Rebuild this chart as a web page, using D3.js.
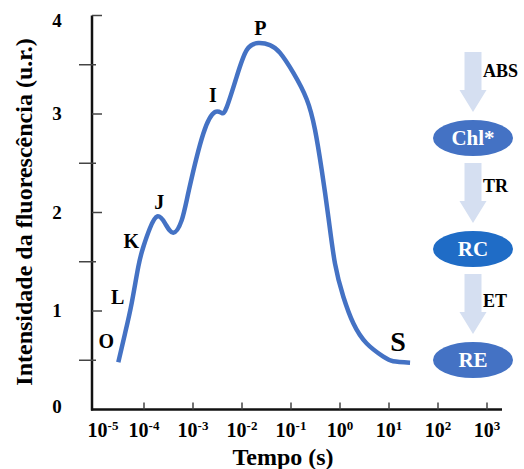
<!DOCTYPE html>
<html lang="en">
<meta charset="utf-8">
<head>
<script src="https://d3js.org/d3.v7.min.js"></script>
<style>
  body { margin: 0; background: #fff; }
  text { font-family: "Liberation Serif", "Times New Roman", serif; font-weight: bold; }
</style>
</head>
<body>
<div id="my_dataviz"></div>
<script>

// OJIP transient: time (s) and fluorescence (u.r.)
var times = [2.99e-5, 4.09e-5, 5.61e-5, 7.66e-5, 9.68e-5, 1.32e-4, 1.87e-4, 2.69e-4, 3.96e-4, 5.87e-4,
             8.28e-4, 1.62e-3, 2.81e-3, 3.85e-3, 4.88e-3, 7.8e-3, 0.0125, 0.0215, 0.0372, 0.0597,
             0.111, 0.209, 0.309, 0.424, 0.577, 0.791, 1.17, 1.87, 3.51, 7.66, 12.2, 26.9];
var fluo = [0.48, 0.77, 1.08, 1.45, 1.65, 1.84, 1.96, 1.89, 1.795, 1.92,
            2.23, 2.80, 3.02, 3.01, 3.07, 3.38, 3.65, 3.72, 3.70, 3.62,
            3.42, 3.15, 2.84, 2.43, 1.96, 1.48, 1.145, 0.875, 0.67, 0.536, 0.49, 0.475];

// phase letters and the curve point each one sits next to
var phases = ["O", "L", "K", "J", "I", "P", "S"];
var phaseIdx = [0, 2, 4, 6, 12, 17, 31];

// tick labels
var xExp = [-5, -4, -3, -2, -1, 0, 1, 2, 3];
var yTicks = [0, 1, 2, 3, 4];
var yMinor = [0.5, 1.5, 2.5, 3.5];

// energy flux scheme on the right
var fluxes = ["ABS", "TR", "ET"];
var nodes = ["Chl*", "RC", "RE"];
var nodeColors = ["#4472c4", "#1f6cc6", "#4472c4"];

function main() {
    var width = 524, height = 469;
    var svg = d3.select("#my_dataviz")
      .append("svg")
      .attr("width", width)
      .attr("height", height);

    var x = d3.scaleLog()
      .domain([1e-5, 1e3])
      .range([95, 487]);
    var y = d3.scaleLinear()
      .domain([0, 4])
      .range([409.5, 15.5]);

    var axisX = 92;

    // axes lines
    svg.append("line")
      .attr("x1", axisX).attr("x2", axisX)
      .attr("y1", y(4)).attr("y2", y(0) + 1)
      .attr("stroke", "#111").attr("stroke-width", 2.5);
    svg.append("line")
      .attr("x1", axisX - 1).attr("x2", 502)
      .attr("y1", y(0)).attr("y2", y(0))
      .attr("stroke", "#111").attr("stroke-width", 2.5);

    // y ticks: integers point in, halves point out
    svg.selectAll(".ymaj")
      .data(yTicks.filter(d => d > 0))
      .enter().append("line")
      .attr("x1", axisX).attr("x2", axisX + 10)
      .attr("y1", d => y(d)).attr("y2", d => y(d))
      .attr("stroke", "#444").attr("stroke-width", 1.5);
    svg.selectAll(".ymin")
      .data(yMinor)
      .enter().append("line")
      .attr("x1", axisX - 13).attr("x2", axisX + 4)
      .attr("y1", d => y(d)).attr("y2", d => y(d))
      .attr("stroke", "#444").attr("stroke-width", 1.5);

    svg.selectAll(".ylab")
      .data(yTicks)
      .enter().append("text")
      .attr("x", 57)
      .attr("y", d => y(d) + (d == 4 ? 11 : d == 0 ? 3 : 6))
      .attr("text-anchor", "middle")
      .style("font-size", "19px")
      .text(d => d);

    // x ticks (decades)
    svg.selectAll(".xt")
      .data(xExp.filter(d => d > -5))
      .enter().append("line")
      .attr("x1", d => x(Math.pow(10, d))).attr("x2", d => x(Math.pow(10, d)))
      .attr("y1", y(0) - 7).attr("y2", y(0))
      .attr("stroke", "#444").attr("stroke-width", 1.5);

    var xl = svg.selectAll(".xlab")
      .data(xExp)
      .enter().append("text")
      .attr("x", d => x(Math.pow(10, d)) + (d == -5 ? 8 : 0))
      .attr("y", 437)
      .attr("text-anchor", "middle")
      .style("font-size", "20px");
    xl.append("tspan").text("10");
    xl.append("tspan")
      .attr("dy", -7)
      .style("font-size", "13px")
      .text(d => d);

    // axis titles
    svg.append("text")
      .attr("x", 283).attr("y", 465)
      .attr("text-anchor", "middle")
      .style("font-size", "24px")
      .text("Tempo (s)");
    svg.append("text")
      .attr("transform", "translate(32,212) rotate(-90)")
      .attr("text-anchor", "middle")
      .style("font-size", "24px")
      .text("Intensidade da fluorescência (u.r.)");

    // the curve
    var pts = times.map((t, i) => [t, fluo[i]]);
    var line = d3.line()
      .x(d => x(d[0]))
      .y(d => y(d[1]))
      .curve(d3.curveNatural);
    svg.append("path")
      .datum(pts)
      .attr("d", line)
      .attr("fill", "none")
      .attr("stroke", "#4472c4")
      .attr("stroke-width", 4.5)
      .attr("stroke-linejoin", "round");

    // phase letters
    var off = [[-12, -14], [-14, 1], [-12, 1], [2, -7], [-2, -10], [2, -8], [-12, -12]];
    svg.selectAll(".ph")
      .data(phases)
      .enter().append("text")
      .attr("x", (d, i) => x(times[phaseIdx[i]]) + off[i][0])
      .attr("y", (d, i) => y(fluo[phaseIdx[i]]) + off[i][1])
      .attr("text-anchor", "middle")
      .style("font-size", (d) => d == "S" ? "28px" : "20px")
      .text(d => d);

    // flux scheme
    var cx = 473, step = 111;
    var g = svg.append("g");
    fluxes.forEach(function(f, i) {
        var top = 52 + i * step;
        var p = d3.path();
        p.moveTo(cx - 8.5, top);
        p.lineTo(cx + 8.5, top);
        p.lineTo(cx + 8.5, top + 38);
        p.lineTo(cx + 13.5, top + 38);
        p.lineTo(cx, top + 60);
        p.lineTo(cx - 13.5, top + 38);
        p.lineTo(cx - 8.5, top + 38);
        p.closePath();
        g.append("path").attr("d", p.toString()).attr("fill", "#d5dff1");
        g.append("text")
          .attr("x", 483).attr("y", 77 + i * 115)
          .style("font-size", "18px")
          .text(f);
    });
    nodes.forEach(function(n, i) {
        var cy = 138 + i * step;
        g.append("ellipse")
          .attr("cx", cx).attr("cy", cy)
          .attr("rx", 40).attr("ry", 18)
          .attr("fill", nodeColors[i]);
        g.append("text")
          .attr("x", cx).attr("y", cy + 7)
          .attr("text-anchor", "middle")
          .attr("fill", "#fff")
          .style("font-size", "21px")
          .text(n);
    });
}

main();

</script>
</body>
</html>
